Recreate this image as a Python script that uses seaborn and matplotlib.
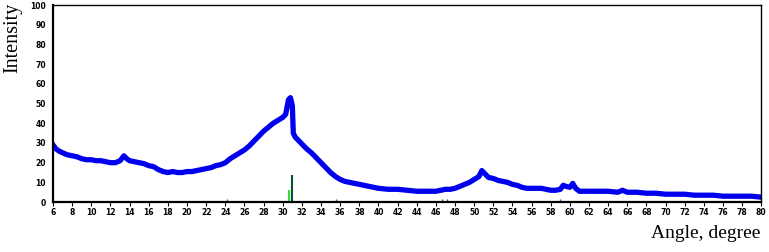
import numpy as np
import pandas as pd
import matplotlib
matplotlib.use("Agg")
import matplotlib.pyplot as plt
import seaborn as sns

# data (angle, intensity)
angle = [6, 6.3, 6.6, 7, 7.5, 8, 8.5, 9, 9.5, 10, 10.5, 11, 11.5, 12, 12.5, 13, 13.4, 13.7, 14, 14.5,
         15, 15.5, 16, 16.5, 17, 17.5, 18, 18.5, 19, 19.5, 20, 20.5, 21, 21.5, 22, 22.5, 23, 23.5,
         24, 24.5, 25, 25.5, 26, 26.5, 27, 27.5, 28, 28.5, 29, 29.5, 30, 30.3, 30.6, 30.8, 31.0, 31.1,
         31.3, 31.6, 32, 32.5, 33, 33.5, 34, 34.5, 35, 35.5, 36, 36.5, 37, 37.5, 38, 38.5, 39, 39.5,
         40, 41, 42, 43, 44, 45, 46, 46.5, 47, 47.5, 48, 48.5, 49, 49.5, 50, 50.5, 50.8, 51.1, 51.5,
         52, 52.5, 53, 53.5, 54, 54.5, 55, 55.5, 56, 56.5, 57, 57.5, 58, 58.5, 59, 59.3, 59.6, 60,
         60.3, 60.6, 61, 62, 63, 64, 65, 65.5, 66, 67, 68, 69, 70, 71, 72, 73, 74, 75, 76, 77, 78, 79, 80]
intensity = [29, 27, 26, 25, 24, 23.5, 23, 22, 21.5, 21.5, 21, 21, 20.5, 20, 20, 21, 23.5, 22, 21, 20.5,
             20, 19.5, 18.5, 18, 16.5, 15.5, 15, 15.5, 15, 15, 15.5, 15.5, 16, 16.5, 17, 17.5, 18.5, 19,
             20, 22, 23.5, 25, 26.5, 28.5, 31, 33.5, 36, 38, 40, 41.5, 43, 44.5, 52, 53, 49, 35,
             33, 31.5, 29.5, 27, 25, 22.5, 20, 17.5, 15, 13, 11.5, 10.5, 10, 9.5, 9, 8.5, 8, 7.5,
             7, 6.5, 6.5, 6, 5.5, 5.5, 5.5, 6, 6.5, 6.5, 7, 8, 9, 10, 11.5, 13, 16, 14.5, 12.5,
             12, 11, 10.5, 10, 9, 8.5, 7.5, 7, 7, 7, 7, 6.5, 6, 6, 6.5, 8.5, 8, 7.5,
             9.5, 7, 5.5, 5.5, 5.5, 5.5, 5, 6, 5, 5, 4.5, 4.5, 4, 4, 4, 3.5, 3.5, 3.5, 3, 3, 3, 3, 2.5]

# reference lines (phase markers)
ref_pos = [30.6, 31.0]
ref_height = [6, 14]
ref_color = ["#33dd33", "#005533"]
minor_pos = [24.2, 35.6, 46.6, 47.2]

xticks = list(range(6, 81, 2))
yticks = list(range(0, 101, 10))

df = pd.DataFrame({"angle": angle, "intensity": intensity})

fig = plt.figure(figsize=(7.69, 2.52), dpi=100)
ax = fig.add_axes([0.069, 0.198, 0.921, 0.782])

sns.lineplot(data=df, x="angle", y="intensity", ax=ax, color="#0000ee", lw=3.8, estimator=None)
ax.vlines(ref_pos, 0, ref_height, colors=ref_color, lw=1.5)
ax.vlines(minor_pos, 0, 1.5, colors="#555555", lw=1)
ax.vlines([59.0], 0, 1.5, colors="#4444ff", lw=1)

ax.set_xlim(6, 80)
ax.set_ylim(0, 100)
ax.set_xticks(xticks)
ax.set_yticks(yticks)
ax.set_xticklabels([str(t) for t in xticks], fontsize=5.5, fontweight="bold")
ax.set_yticklabels([str(t) for t in yticks], fontsize=5.5, fontweight="bold")
ax.tick_params(axis="x", direction="out", length=3, width=0.8, pad=1)
ax.tick_params(axis="y", direction="out", length=0, pad=5)
for s in ax.spines.values():
    s.set_linewidth(1.0)
    s.set_color("black")
ax.spines["left"].set_linewidth(1.6)
ax.spines["bottom"].set_linewidth(1.6)
ax.set_xlabel("")
ax.set_ylabel("")

fig.text(0.017, 0.85, "Intensity", rotation=90, ha="center", va="center",
         family="Liberation Serif", fontsize=14.5)
fig.text(0.989, 0.075, "Angle, degree", ha="right", va="center",
         family="Liberation Serif", fontsize=14)

fig.savefig("out.png", dpi=100)
